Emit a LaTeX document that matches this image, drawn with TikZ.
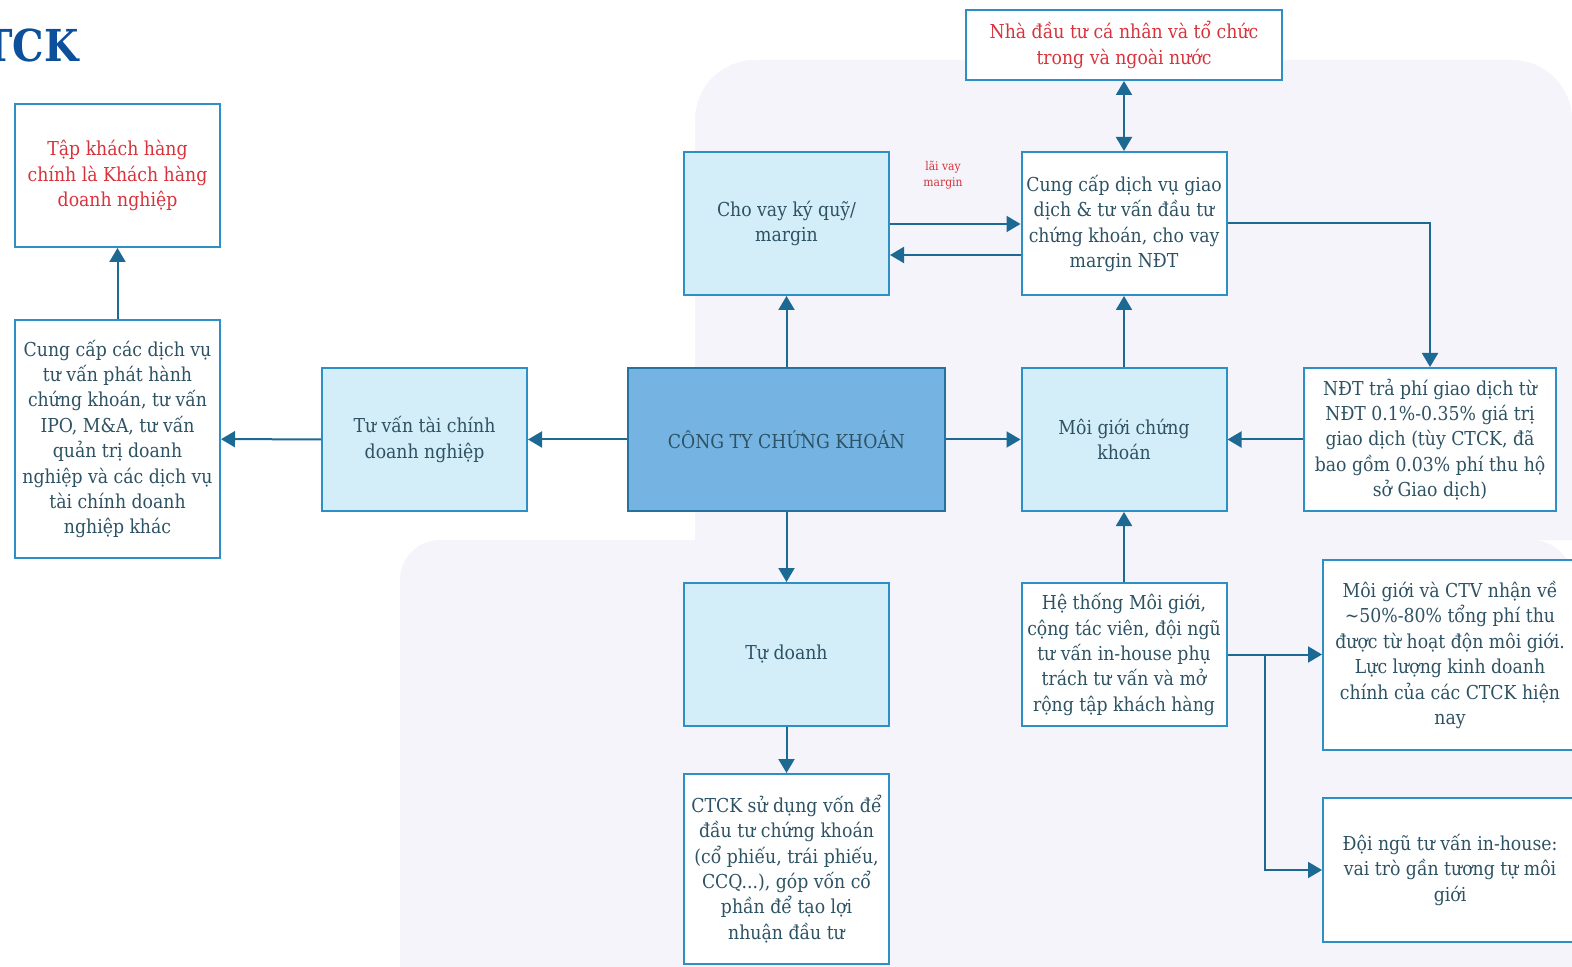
\documentclass[tikz,border=0pt]{standalone}
\usepackage{fontspec}
\setmainfont{DejaVu Serif Condensed}
\usetikzlibrary{arrows.meta}

\definecolor{khung}{HTML}{2E8FC6}
\definecolor{muiten}{HTML}{1C6A93}
\definecolor{chu}{HTML}{2D5263}
\definecolor{chudo}{HTML}{D8333C}
\definecolor{xanhnhat}{HTML}{D3EDF9}
\definecolor{xanhdam}{HTML}{74B3E2}
\definecolor{tieude}{HTML}{0C4F9B}
\definecolor{nen}{HTML}{F4F4FA}

\tikzset{
  hop/.style={draw=khung, line width=1pt, fill=white, text=chu, align=center,
    inner sep=1pt, minimum width=102.5pt, minimum height=71.5pt,
    font=\fontsize{9.6}{12.7}\selectfont},
  hopxanh/.style={hop, fill=xanhnhat},
  hopdo/.style={hop, text=chudo},
  noi/.style={draw=muiten, line width=1pt, -{Triangle[width=8pt,length=7pt]}},
}

\begin{document}
\begin{tikzpicture}[x=0.5pt,y=-0.5pt]
    \clip (0,0) rectangle (1572,967);
    \fill[white] (0,0) rectangle (1572,967);
    % background shapes
    \fill[nen] (400,967) -- (400,600) [rounded corners=20pt] -- (400,540) -- (1572,540) [sharp corners] -- (1572,967) -- cycle;
    \fill[nen] (695,540) [rounded corners=30pt] -- (695,60) -- (1572,60) [sharp corners] -- (1572,540) -- cycle;

    \node[anchor=east, text=tieude, font=\fontsize{22}{22}\bfseries\selectfont] (tieude) at (86,45) {TCK};

    % hang giua
    \node[hop, fill=xanhdam, draw=khung!80!black, minimum width=158.5pt] (ctck) at (786.5,439.5) {CÔNG TY CHỨNG KHOÁN};
    \node[hopxanh] (tuvan) at (424.5,439.5) {Tư vấn tài chính\\doanh nghiệp};
    \node[hop, minimum height=119pt] (dichvu) at (117.5,439) {Cung cấp các dịch vụ\\tư vấn phát hành\\chứng khoán, tư vấn\\IPO, M\&A, tư vấn\\quản trị doanh\\nghiệp và các dịch vụ\\tài chính doanh\\nghiệp khác};
    \node[hopdo] (khach) at (117.5,175.5) {Tập khách hàng\\chính là Khách hàng\\doanh nghiệp};
    \node[hopxanh] (chovay) at (786.5,223.5) {Cho vay ký quỹ/\\margin};
    \node[hopxanh] (tudoanh) at (786.5,654.5) {Tự doanh};
    \node[hop, minimum height=95pt] (von) at (786.5,869) {CTCK sử dụng vốn để\\đầu tư chứng khoán\\(cổ phiếu, trái phiếu,\\CCQ...), góp vốn cổ\\phần để tạo lợi\\nhuận đầu tư};
    \node[hopxanh] (moigioi) at (1124,439.5) {Môi giới chứng\\khoán};
    \node[hop] (giaodich) at (1124,223.5) {Cung cấp dịch vụ giao\\dịch \& tư vấn đầu tư\\chứng khoán, cho vay\\margin NĐT};
    \node[hopdo, minimum width=158pt, minimum height=35pt] (ndt) at (1124,45) {Nhà đầu tư cá nhân và tổ chức\\trong và ngoài nước};
    \node[hop, minimum width=126pt] (phi) at (1430,439.5) {NĐT trả phí giao dịch từ\\NĐT 0.1\%-0.35\% giá trị\\giao dịch (tùy CTCK, đã\\bao gồm 0.03\% phí thu hộ\\sở Giao dịch)};
    \node[hop] (hethong) at (1124,654.5) {Hệ thống Môi giới,\\cộng tác viên, đội ngũ\\tư vấn in-house phụ\\trách tư vấn và mở\\rộng tập khách hàng};
    \node[hop, minimum width=127pt, minimum height=95pt] (ctv) at (1450,655) {Môi giới và CTV nhận về\\\textasciitilde50\%-80\% tổng phí thu\\được từ hoạt độn môi giới.\\Lực lượng kinh doanh\\chính của các CTCK hiện\\nay};
    \node[hop, minimum width=127pt, minimum height=72pt] (inhouse) at (1450,870) {Đội ngũ tư vấn in-house:\\vai trò gần tương tự môi\\giới};

    \node[text=chudo, align=center, font=\fontsize{6}{8}\selectfont] (laivay) at (943,175) {lãi vay\\margin};

    % mui ten
    \draw[noi] (ctck) -- (chovay);
    \draw[noi] (ctck) -- (tudoanh);
    \draw[noi] (tudoanh) -- (von);
    \draw[noi] (ctck) -- (tuvan);
    \draw[noi] (tuvan) -- (dichvu);
    \draw[noi] (dichvu) -- (khach);
    \draw[noi] (ctck) -- (moigioi);
    \draw[noi] (phi) -- (moigioi);
    \draw[noi] (hethong) -- (moigioi);
    \draw[noi] (moigioi) -- (giaodich);
    \draw[noi, {Triangle[width=8pt,length=7pt]}-{Triangle[width=8pt,length=7pt]}] (giaodich) -- (ndt);
    \draw[noi] (chovay.east |- 0,224) -- (giaodich.west |- 0,224);
    \draw[noi] (giaodich.west |- 0,255) -- (chovay.east |- 0,255);
    \draw[noi] (giaodich.east) -| (phi.north);
    \draw[noi] (hethong.east) -- (ctv.west |- hethong.east);
    \coordinate (re) at (1265,654.5);
    \draw[noi] (re) |- (inhouse.west);
\end{tikzpicture}
\end{document}
